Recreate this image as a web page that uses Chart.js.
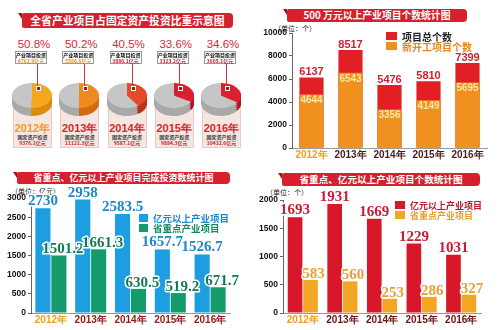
<!DOCTYPE html>
<html>
<head>
<meta charset="utf-8">
<script src="https://cdn.jsdelivr.net/npm/chart.js@4.4.0/dist/chart.umd.min.js"></script>
<style>
  body { margin: 0; background: #fff; font-family: "Noto Sans CJK SC", "Liberation Sans", sans-serif; }
  #board { position: relative; width: 500px; height: 330px; overflow: hidden; }
  .abs { position: absolute; }
  .banner { position: absolute; background: #d6202e; color: #fff; font-weight: 700; text-align: center; white-space: nowrap; border-radius: 2px 4px 4px 2px; }
  .banner:before { content: ""; position: absolute; left: -4px; top: 0; border-style: solid; border-width: 0 4px 6px 0; border-color: transparent #9c1220 transparent transparent; }
  .unit { position: absolute; font-size: 7px; color: #222; white-space: nowrap; }
  .legend { position: absolute; font-weight: 700; white-space: nowrap; z-index: 5; }
  .legend div { display: flex; align-items: center; height: 10px; }
  .legend span.sw { display: inline-block; margin-right: 5px; }
  .pct { position: absolute; font-family: "Liberation Sans"; font-size: 11.5px; color: #d22a3c; transform: translateX(-50%); white-space: nowrap; }
  .tag { position: absolute; width: 30px; height: 11px; background: #fff; border: 1px solid #9a9a9a; font-size: 5px; line-height: 5.5px; text-align: center; font-weight: 700; z-index: 4; }
  .card { position: absolute; width: 37px; height: 46px; background: #f6e6e2; border: 1px solid #e6caca; }
  .yr { position: absolute; width: 100%; top: 20px; text-align: center; font-family: "Liberation Sans"; font-weight: 700; font-size: 11px; }
  .fx { position: absolute; width: 100%; top: 33px; text-align: center; font-size: 5px; line-height: 5.5px; font-weight: 700; color: #333; }
  .layer { position: absolute; left: 0; width: 40px; height: 40px; transform: scaleY(0.625); transform-origin: top left; }
  canvas.c { position: absolute; }
</style>
</head>
<body>
<div id="board">
  <div class="banner" style="left:22px;top:13px;width:211px;height:15px;font-size:10.8px;line-height:15px">全省产业项目占固定资产投资比重示意图</div>
  <div class="banner" style="left:287px;top:9px;width:180px;height:13px;font-size:9.8px;line-height:13px">500 万元以上产业项目个数统计图</div>
  <div class="banner" style="left:17px;top:172px;width:213px;height:12px;font-size:9px;line-height:12px">省重点、亿元以上产业项目完成投资数统计图</div>
  <div class="banner" style="left:282px;top:173px;width:198px;height:13px;font-size:9.6px;line-height:13px">省重点、亿元以上产业项目个数统计图</div>

  <div class="unit" style="left:274px;top:23px">（单位：个）</div>
  <div class="unit" style="left:11px;top:186px">（单位：亿元）</div>
  <div class="unit" style="left:266px;top:187px">（单位：个）</div>

  <canvas id="countChart" class="c" width="245" height="140" style="left:250px;top:25px"></canvas>
  <canvas id="investChart" class="c" width="250" height="145" style="left:0;top:185px"></canvas>
  <canvas id="numChart" class="c" width="250" height="145" style="left:250px;top:185px"></canvas>

  <div id="legendCount" class="legend" style="left:386px;top:31px;font-size:10px"></div>
  <div id="legendInvest" class="legend" style="left:139px;top:213px;font-size:9.5px"></div>
  <div id="legendNum" class="legend" style="left:395px;top:200px;font-size:9px"></div>
</div>

<script>
const years = ["2012年", "2013年", "2014年", "2015年", "2016年"]

// 全省产业项目占固定资产投资比重
const sharePct = [50.8, 50.2, 40.5, 33.6, 34.6]
const industryInvest = ["4763.9", "5586.6", "3886.1", "3323.2", "3605.1"]
const fixedInvest = ["9376.1", "11121.3", "9587.1", "9884.3", "10432.6"]

// 500万元以上产业项目个数
const countSeries = ["项目总个数", "新开工项目个数"]
const totalProjects = [6137, 8517, 5476, 5810, 7399]
const newProjects = [4644, 6543, 3356, 4149, 5695]

// 完成投资数 (亿元) and 个数
const investSeries = ["亿元以上产业项目", "省重点产业项目"]
const bigInvest = [2730, 2958, 2583.5, 1657.7, 1526.7]
const keyInvest = [1501.2, 1661.3, 630.5, 519.2, 671.7]
const bigCount = [1693, 1931, 1669, 1229, 1031]
const keyCount = [583, 560, 253, 286, 327]

const board = document.getElementById("board")

// ---------- pie panel ----------
const pieTop = ["#f5a81d", "#f08a1e", "#e4492b", "#da1f30", "#da1f30"]
const pieSide = ["#d98c12", "#d06c12", "#b8351d", "#ae1626", "#ae1626"]

function pie(parent, top, pct, colors) {
  const layer = document.createElement("div")
  layer.className = "layer"
  layer.style.top = top + "px"
  const cv = document.createElement("canvas")
  cv.width = 40
  cv.height = 40
  layer.appendChild(cv)
  parent.appendChild(layer)
  new Chart(cv, {
    type: "pie",
    data: { datasets: [{ data: [pct, 100 - pct], backgroundColor: colors, borderWidth: 0 }] },
    options: {
      responsive: false,
      animation: false,
      events: [],
      layout: { padding: 0 },
      plugins: { legend: { display: false }, tooltip: { enabled: false } },
    },
  })
}

sharePct.forEach((pct, i) => {
  const left = 12 + i * 47.25
  const cx = left + 20

  const card = document.createElement("div")
  card.className = "card"
  card.style.left = left + 1 + "px"
  card.style.top = "100px"
  card.innerHTML =
    `<div class="yr" style="color:${i === 0 ? "#f0a020" : "#d42a2a"}">${years[i]}</div>` +
    `<div class="fx">固定资产投资<br><span style="color:#c8203a">${fixedInvest[i]}亿元</span></div>`
  board.appendChild(card)

  const holder = document.createElement("div")
  holder.className = "abs"
  holder.style.left = left + "px"
  holder.style.top = "0px"
  holder.style.width = "40px"
  board.appendChild(holder)
  for (let k = 8; k >= 2; k -= 2) pie(holder, 83 + k, pct, [pieSide[i], "#a9a9a9"])
  pie(holder, 83, pct, [pieTop[i], "#c6c6c6"])

  const p = document.createElement("div")
  p.className = "pct"
  p.style.left = cx + 2 + "px"
  p.style.top = "38px"
  p.textContent = pct + "%"
  board.appendChild(p)

  const tag = document.createElement("div")
  tag.className = "tag"
  tag.style.left = cx - 17 + "px"
  tag.style.top = "51px"
  tag.innerHTML = `产业项目投资<br><span style="color:${i < 2 ? "#e8901a" : "#c01c30"}">${industryInvest[i]}亿元</span>`
  board.appendChild(tag)

  const line = document.createElement("div")
  line.className = "abs"
  line.style.cssText = `left:${cx + 5}px;top:63px;width:1px;height:24px;background:#c23a44;z-index:3`
  board.appendChild(line)
  const dot = document.createElement("div")
  dot.className = "abs"
  dot.style.cssText = `left:${cx + 4}px;top:86px;width:3px;height:3px;background:#b01020;border:0.5px solid #fff;z-index:3`
  board.appendChild(dot)
})

// ---------- bar charts ----------
const valueLabels = {
  id: "valueLabels",
  afterDatasetsDraw(chart) {
    const ctx = chart.ctx
    chart.data.datasets.forEach((ds, i) => {
      const lab = ds.valueLabel
      if (!lab) return
      chart.getDatasetMeta(i).data.forEach((bar, j) => {
        const text = String(ds.data[j])
        ctx.save()
        ctx.font = lab.font
        ctx.textAlign = "center"
        ctx.textBaseline = lab.inside ? "top" : "alphabetic"
        const x = bar.x + (lab.dx || 0)
        const y = lab.inside ? bar.y + 1 : bar.y - (lab.gap || 2)
        if (lab.stroke) {
          ctx.lineWidth = 3
          ctx.lineJoin = "round"
          ctx.strokeStyle = "#fff"
          ctx.strokeText(text, x, y)
        }
        ctx.fillStyle = lab.color
        ctx.fillText(text, x, y)
        ctx.restore()
      })
    })
  },
}

function yScale(max, step, width) {
  return {
    min: 0,
    max: max,
    ticks: {
      stepSize: step,
      color: "#111",
      padding: 2,
      font: { family: "Liberation Sans", size: 8.5, weight: "bold" },
      callback: (v) => String(v),
    },
    grid: { drawOnChartArea: false, tickLength: 3, color: "#666" },
    border: { color: "#666" },
    afterFit: (s) => { s.width = width },
  }
}

function xScale(height, dark, stacked) {
  return {
    stacked: stacked,
    ticks: {
      padding: 1,
      color: (c) => (c.index === 0 ? "#eea022" : dark),
      font: { family: "Liberation Sans", size: 10, weight: "bold" },
    },
    grid: { display: false, drawTicks: false },
    border: { color: "#999" },
    afterFit: (s) => { s.height = height },
  }
}

function barChart(id, datasets, x, y, padding) {
  return new Chart(document.getElementById(id), {
    type: "bar",
    data: { labels: years, datasets: datasets },
    options: {
      responsive: false,
      animation: false,
      events: [],
      layout: { padding: padding },
      plugins: { legend: { display: false }, tooltip: { enabled: false } },
      scales: { x: x, y: y },
    },
    plugins: [valueLabels],
  })
}

function legend(id, chart, colors) {
  const el = document.getElementById(id)
  chart.data.datasets
    .slice()
    .sort((a, b) => a.legendIndex - b.legendIndex)
    .forEach((ds, i) => {
      const row = document.createElement("div")
      row.innerHTML = `<span class="sw" style="width:${ds.swatch[0]}px;height:${ds.swatch[1]}px;background:${ds.backgroundColor}"></span><span style="color:${colors[i]}">${ds.label}</span>`
      el.appendChild(row)
    })
}

const countChart = barChart(
  "countChart",
  [
    {
      label: countSeries[0], data: totalProjects, backgroundColor: "#e31f26", order: 1, legendIndex: 0, swatch: [11, 8],
      barPercentage: 0.62, categoryPercentage: 1,
      valueLabel: { font: "bold 11px 'Liberation Sans'", color: "#d21f30", stroke: true, gap: 2 },
    },
    {
      label: countSeries[1], data: newProjects, backgroundColor: "#f0901e", order: 0, legendIndex: 1, swatch: [11, 8],
      barPercentage: 0.62, categoryPercentage: 1,
      valueLabel: { font: "bold 10px 'Liberation Sans'", color: "#fde7a8", inside: true },
    },
  ],
  xScale(17, "#4a1c1c", true),
  yScale(10000, 2000, 42),
  { top: 8, right: 8, left: 0, bottom: 0 }
)
legend("legendCount", countChart, ["#222", "#e8861a"])

const investChart = barChart(
  "investChart",
  [
    {
      label: investSeries[0], data: bigInvest, backgroundColor: "#1c9ee0", legendIndex: 0, swatch: [9, 8],
      barPercentage: 0.95, categoryPercentage: 0.8,
      valueLabel: { font: "bold 15px 'Liberation Serif'", color: "#1f86c6", stroke: true, gap: 3 },
    },
    {
      label: investSeries[1], data: keyInvest, backgroundColor: "#159a6c", legendIndex: 1, swatch: [9, 8],
      barPercentage: 0.95, categoryPercentage: 0.8,
      valueLabel: { font: "bold 15px 'Liberation Serif'", color: "#137a58", stroke: true, gap: 2, dx: 4 },
    },
  ],
  xScale(17, "#8a1c1c", false),
  yScale(3000, 500, 31),
  { top: 13, right: 20, left: 0, bottom: 0 }
)
legend("legendInvest", investChart, ["#1b8ad0", "#148a60"])

const numChart = barChart(
  "numChart",
  [
    {
      label: investSeries[0], data: bigCount, backgroundColor: "#d8182a", legendIndex: 0, swatch: [10, 8],
      barPercentage: 0.95, categoryPercentage: 0.78,
      valueLabel: { font: "bold 15px 'Liberation Serif'", color: "#c81c36", stroke: true, gap: 3 },
    },
    {
      label: investSeries[1], data: keyCount, backgroundColor: "#f2a624", legendIndex: 1, swatch: [10, 8],
      barPercentage: 0.95, categoryPercentage: 0.78,
      valueLabel: { font: "bold 15px 'Liberation Serif'", color: "#e9a030", stroke: true, gap: 2, dx: 3 },
    },
  ],
  xScale(17, "#6a1414", false),
  yScale(2000, 500, 33),
  { top: 15, right: 19, left: 0, bottom: 0 }
)
legend("legendNum", numChart, ["#b8182e", "#eaa030"])
</script>
</body>
</html>
